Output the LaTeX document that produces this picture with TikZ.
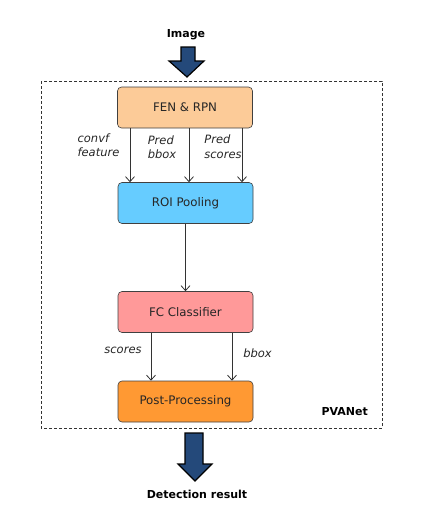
\documentclass[tikz,border=0pt]{standalone}
\usepackage{fontspec}
\setmainfont{DejaVu Sans}
\usetikzlibrary{arrows.meta,positioning}
\definecolor{fenfill}{HTML}{FCCB98}
\definecolor{roifill}{HTML}{66CCFF}
\definecolor{fcfill}{HTML}{FF9999}
\definecolor{postfill}{HTML}{FF9933}
\definecolor{arrowblue}{HTML}{24497A}

\begin{document}
\begin{tikzpicture}[x=1pt,y=-1pt]
	\tikzset{block/.style={draw=black!75,line width=0.6pt,rounded corners=4pt,minimum width=135pt,minimum height=41pt,text=black!85,font=\fontsize{11.8}{14}\selectfont},
		flow/.style={draw=black!80,line width=0.8pt,-{Straight Barb[length=5pt,width=9pt]}},
		lbl/.style={inner sep=0pt,align=left,text=black!85,font=\fontsize{11.5}{14.5}\selectfont\itshape},
		title/.style={inner sep=0pt,font=\fontsize{11}{13}\selectfont\bfseries},
		bigarrow/.style={draw=black,line width=1.2pt,fill=arrowblue,line join=miter}}
	\useasboundingbox (0,0) rectangle (443,525);
	
	% Outer dashed frame
	\draw [black!80,dashed,dash pattern=on 3pt off 2pt] (41,81) rectangle (382,428);
	\node[title,anchor=east] (pva) at (368,412) {PVANet};
	
	% Input and output labels
	\node[title] (img) at (186,35) {Image};
	\node[title] (res) at (197,494) {Detection result};
	
	% Big block arrows
	\draw[bigarrow] (181,47) -- (195,47) -- (195,61) -- (204,61) -- (187,77) -- (169,61) -- (181,61) -- cycle;
	\draw[bigarrow] (185,433) -- (203,433) -- (203,464) -- (212,464) -- (195,481) -- (178,464) -- (185,464) -- cycle;
	
	% Stages
	\node[block,fill=fenfill] (fen) at (185,107.5) {FEN \& RPN};
	\node[block,fill=roifill] (roi) at (185.5,203) {ROI Pooling};
	\node[block,fill=fcfill] (fc) at (185.5,312) {FC Classifier};
	\node[block,fill=postfill] (post) at (185.5,401.5) {Post-Processing};
	
	% Proposal outputs into ROI pooling
	\foreach \x in {130,189,242}
	{
		\draw[flow] (fen.south -| \x,0) -- (roi.north -| \x,0);
	}
	\draw[flow] (roi) -- (fc);
	\foreach \x in {151,232}
	{
		\draw[flow] (fc.south -| \x,0) -- (post.north -| \x,0);
	}
	
	% Labels on the connectors
	\node[lbl] (convf) at (98.5,145) {convf\\feature};
	\node[lbl] (pbbox) at (162,147) {Pred\\bbox};
	\node[lbl] (pscores) at (223,146.5) {Pred\\scores};
	\node[lbl] (scores) at (123,350) {scores};
	\node[lbl] (bbox) at (257.5,353) {bbox};
\end{tikzpicture}
\end{document}
